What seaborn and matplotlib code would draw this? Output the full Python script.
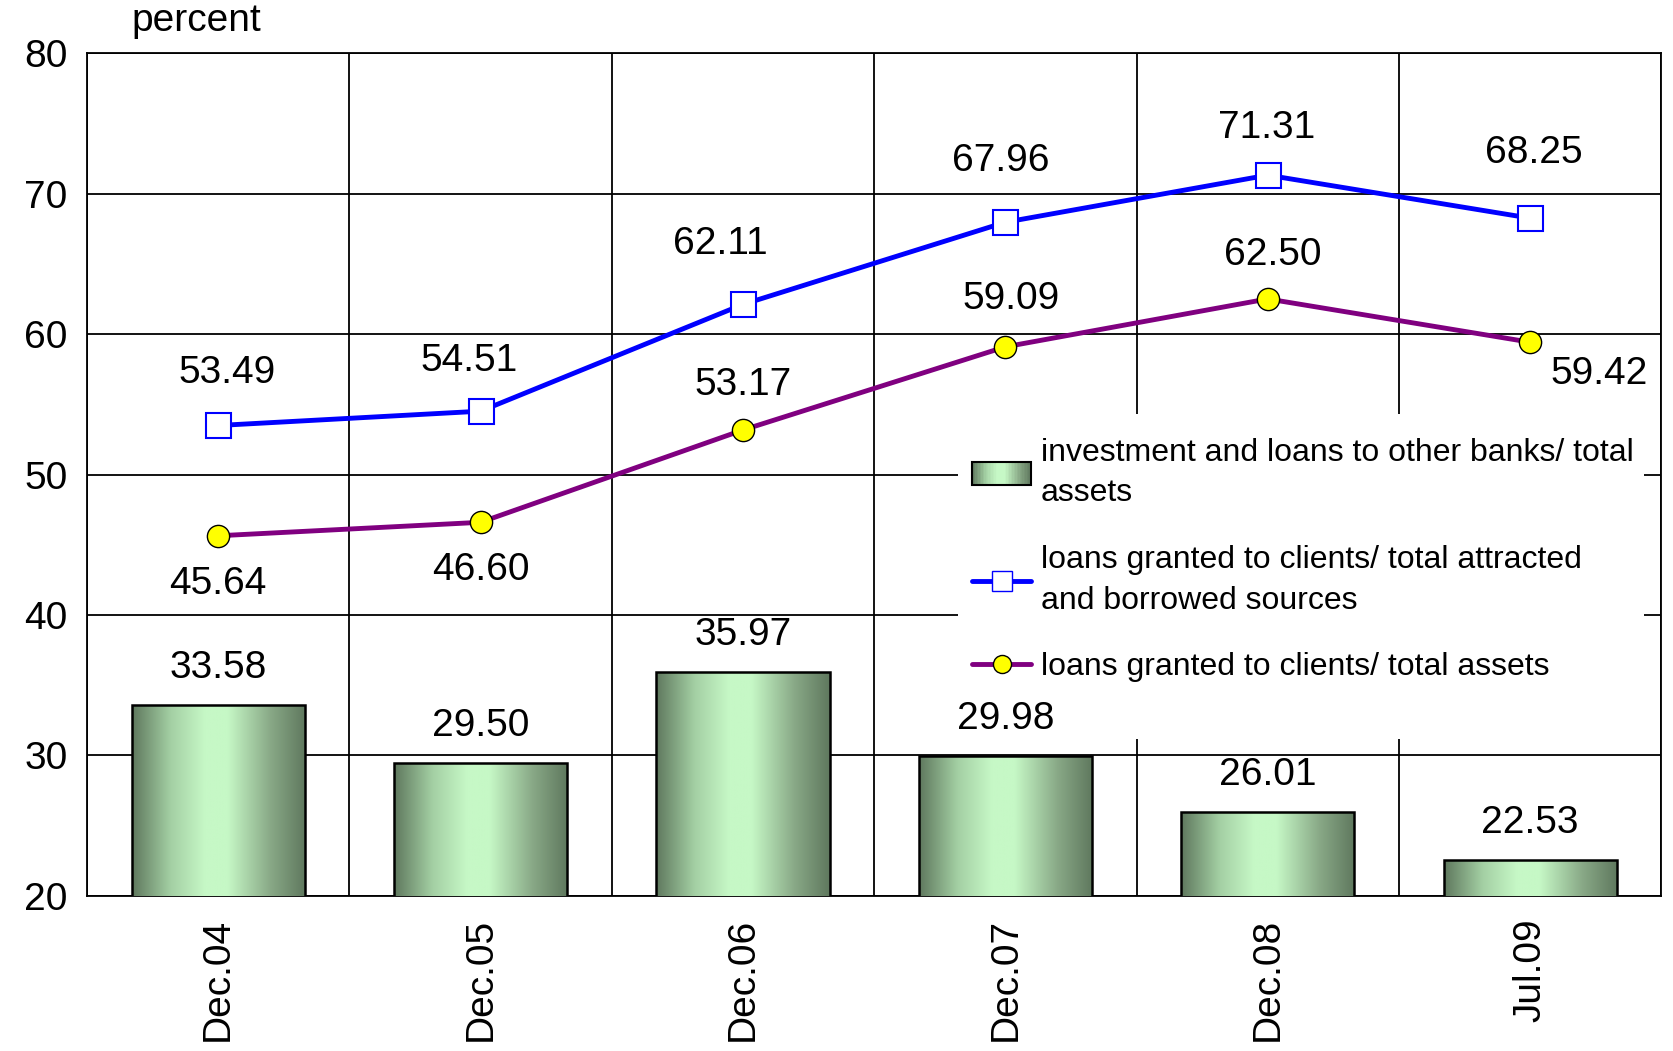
import numpy as np
import pandas as pd
import seaborn as sns
import matplotlib
matplotlib.use("Agg")
import matplotlib.pyplot as plt
from matplotlib.colors import LinearSegmentedColormap
from matplotlib.patches import Rectangle
from matplotlib.lines import Line2D
from matplotlib.legend_handler import HandlerBase
from matplotlib import font_manager

# data
periods = ["Dec.04", "Dec.05", "Dec.06", "Dec.07", "Dec.08", "Jul.09"]
invest_share = [33.58, 29.50, 35.97, 29.98, 26.01, 22.53]
loans_to_sources = [53.49, 54.51, 62.11, 67.96, 71.31, 68.25]
loans_to_assets = [45.64, 46.60, 53.17, 59.09, 62.50, 59.42]

lbl_bars = "investment and loans to other banks/ total\nassets"
lbl_blue = "loans granted to clients/ total attracted\nand borrowed sources"
lbl_purple = "loans granted to clients/ total assets"

# label offsets in pixels (dx, dy) relative to the marker
blue_off = [(9, 52), (-11, 50), (-23, 60), (-5, 61), (-1, 47), (4, 65)]
purple_off = [(0, -48), (0, -48), (0, 45), (6, 48), (5, 44), (69, -32)]

sns.set_style("white")
plt.rcParams["font.family"] = ["Liberation Sans", "DejaVu Sans"]
plt.rcParams["text.color"] = "black"
plt.rcParams["xtick.color"] = "black"
plt.rcParams["ytick.color"] = "black"
FS = 28

names = {f.name for f in font_manager.fontManager.ttflist}
leg_family = "Liberation Sans Narrow" if "Liberation Sans Narrow" in names else "Liberation Sans"
leg_fs = 27 if leg_family == "Liberation Sans Narrow" else 23

grad = LinearSegmentedColormap.from_list(
    "bar", [(0, "#5f785e"), (0.22, "#a3cfa3"), (0.42, "#c6f8c6"),
            (0.55, "#c6f8c6"), (0.8, "#88a886"), (1, "#5f785e")])

df = pd.DataFrame({"period": periods, "value": invest_share})
x = np.arange(len(periods))

fig = plt.figure(figsize=(16.73, 10.51), dpi=100)
ax = fig.add_axes([0.052, 0.1475, 0.941, 0.802])

sns.barplot(data=df, x="period", y="value", ax=ax, width=0.66,
            color="#a0c8a0", edgecolor="black", linewidth=1.8, zorder=3)

# gradient fill clipped to each bar
for p in ax.patches:
    x0 = p.get_x()
    w, h = p.get_width(), p.get_height()
    im = ax.imshow(np.linspace(0, 1, 256).reshape(1, -1), cmap=grad,
                   extent=[x0, x0 + w, 20, p.get_y() + h], aspect="auto", zorder=3)
    im.set_clip_path(p)
    p.set_facecolor("none")
    p.set_zorder(4)

sns.lineplot(x=x, y=loans_to_sources, ax=ax, color="#0000ff", lw=3.5,
             marker="s", markersize=18, markerfacecolor="white",
             markeredgecolor="#0000ff", markeredgewidth=1.5, zorder=6)
sns.lineplot(x=x, y=loans_to_assets, ax=ax, color="#800080", lw=3.5,
             marker="o", markersize=16, markerfacecolor="#ffff00",
             markeredgecolor="black", markeredgewidth=1, zorder=6)

for i, v in enumerate(invest_share):
    ax.annotate(f"{v:.2f}", (x[i], v), xytext=(0, 37), textcoords="offset pixels",
                ha="center", va="center", fontsize=FS, zorder=7)
for i, v in enumerate(loans_to_sources):
    ax.annotate(f"{v:.2f}", (x[i], v), xytext=blue_off[i], textcoords="offset pixels",
                ha="center", va="center", fontsize=FS, zorder=7)
for i, v in enumerate(loans_to_assets):
    ax.annotate(f"{v:.2f}", (x[i], v), xytext=purple_off[i], textcoords="offset pixels",
                ha="center", va="center", fontsize=FS, zorder=7)

ax.set_xlim(-0.5, len(periods) - 0.5)
ax.set_ylim(20, 80)
ax.set_yticks(range(20, 81, 10))
ax.set_xticks(np.arange(len(periods) + 1) - 0.5)
ax.set_xticklabels([])
ax.set_xticks(x, minor=True)
ax.set_xticklabels(periods, minor=True, rotation=90, fontsize=FS)
ax.tick_params(axis="x", which="minor", length=0, pad=16)
ax.tick_params(axis="x", which="major", direction="out", length=10, width=1.2, color="black")
ax.tick_params(axis="y", direction="out", length=10, width=1.2, color="black",
               labelsize=FS, pad=4)
ax.grid(True, which="major", color="black", lw=1.3, zorder=1)
ax.set_axisbelow(True)
for s in ax.spines.values():
    s.set_color("black")
    s.set_linewidth(1.3)
ax.set_xlabel("")
ax.set_ylabel("")

fig.text(0.0785, 0.98, "percent", fontsize=FS, ha="left", va="center")

# white legend area hiding the grid behind it
ax.add_patch(Rectangle((0.553, 0.186), 0.436, 0.386, transform=ax.transAxes,
                       facecolor="white", edgecolor="none", zorder=2))


class GradientHandler(HandlerBase):
    def create_artists(self, legend, orig_handle, xdescent, ydescent,
                       width, height, fontsize, trans):
        arts = []
        n = 40
        for k in range(n):
            arts.append(Rectangle((-xdescent + width * k / n, -ydescent), width / n + 0.3,
                                  height, facecolor=grad((k + 0.5) / n),
                                  edgecolor="none", transform=trans))
        arts.append(Rectangle((-xdescent, -ydescent), width, height, fill=False,
                              edgecolor="black", lw=1.5, transform=trans))
        return arts


bar_handle = Rectangle((0, 0), 1, 1)
blue_handle = Line2D([], [], color="#0000ff", lw=3.5, marker="s", markersize=14,
                     markerfacecolor="white", markeredgecolor="#0000ff")
purple_handle = Line2D([], [], color="#800080", lw=3.5, marker="o", markersize=13,
                       markerfacecolor="#ffff00", markeredgecolor="black")
leg = ax.legend([bar_handle, blue_handle, purple_handle], [lbl_bars, lbl_blue, lbl_purple],
                handler_map={Rectangle: GradientHandler()},
                loc="upper left", bbox_to_anchor=(0.541, 0.583),
                prop={"family": leg_family, "size": leg_fs},
                frameon=False, handlelength=1.85, handletextpad=0.3,
                labelspacing=1.15, borderpad=0.55)
for t in leg.get_texts():
    t.set_linespacing(1.45)
leg.set_zorder(5)

fig.savefig("out.png", dpi=100)
